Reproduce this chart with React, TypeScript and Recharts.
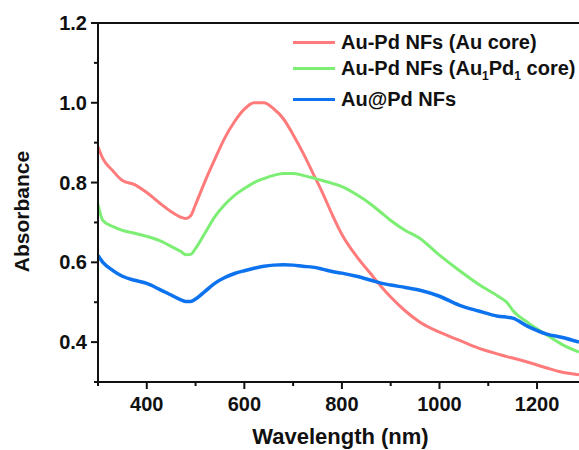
import React from 'react';
import {
  LineChart,
  Line,
  XAxis,
  YAxis,
  ReferenceLine,
} from 'recharts';

// wavelength grid (nm)
const wavelengths = [
  300, 310, 330, 350, 375, 400, 425, 450, 470, 480, 490, 500, 520, 540, 560,
  580, 600, 620, 640, 660, 680, 700, 720, 740, 760, 780, 800, 830, 860, 880,
  900, 930, 960, 1000, 1040, 1080, 1120, 1140, 1150, 1180, 1220, 1250, 1286,
];

const auCore = [
  0.89, 0.86, 0.83, 0.805, 0.795, 0.775, 0.75, 0.727, 0.713, 0.71, 0.717, 0.745,
  0.805, 0.86, 0.912, 0.953, 0.984, 1.0, 1.0, 0.985, 0.96, 0.92, 0.875, 0.825,
  0.775, 0.72, 0.67, 0.615, 0.57, 0.54, 0.513, 0.478, 0.45, 0.425, 0.405, 0.385,
  0.37, 0.363, 0.36, 0.35, 0.335, 0.325, 0.318,
];

const au1pd1Core = [
  0.745, 0.705, 0.69, 0.68, 0.673, 0.665, 0.655, 0.64, 0.627, 0.619, 0.62,
  0.635, 0.675, 0.715, 0.745, 0.768, 0.785, 0.8, 0.81, 0.818, 0.823, 0.823, 0.818,
  0.812, 0.805, 0.798, 0.79, 0.77, 0.745, 0.725, 0.705, 0.68, 0.66, 0.618,
  0.58, 0.545, 0.515, 0.497, 0.48, 0.45, 0.418, 0.395, 0.375,
];

const auPd = [
  0.617, 0.6, 0.58, 0.565, 0.555, 0.547, 0.533, 0.518, 0.506, 0.502, 0.502, 0.508,
  0.528, 0.548, 0.562, 0.572, 0.579, 0.585, 0.59, 0.593, 0.594, 0.593, 0.59,
  0.588, 0.583, 0.577, 0.573, 0.565, 0.555, 0.548, 0.543, 0.537, 0.53, 0.515,
  0.493, 0.478, 0.465, 0.462, 0.46, 0.44, 0.42, 0.412, 0.4,
];

const xTicks = [300, 400, 500, 600, 700, 800, 900, 1000, 1100, 1200];
const xMajor = [400, 600, 800, 1000, 1200];
const yTicks = [0.3, 0.4, 0.5, 0.6, 0.7, 0.8, 0.9, 1.0, 1.1, 1.2];
const yMajor = [0.4, 0.6, 0.8, 1.0, 1.2];

const RED = '#FF7A7A';
const GREEN = '#7DEE74';
const BLUE = '#0C72EE';

const FONT = '"Liberation Sans", Arial, sans-serif';

const AXIS_X = 98;
const AXIS_Y = 382;

const data = wavelengths.map((w, i) => ({
  w,
  auCore: auCore[i],
  au1pd1Core: au1pd1Core[i],
  auPd: auPd[i],
}));

function YTick(props: any) {
  const { y, payload } = props;
  const major = yMajor.some((m) => Math.abs(m - payload.value) < 1e-6);
  return (
    <g>
      <line x1={AXIS_X - (major ? 7 : 4)} x2={AXIS_X} y1={y} y2={y} stroke="#111" strokeWidth={2} />
      {major && (
        <text x={AXIS_X - 11} y={y} dy={7} textAnchor="end" fontFamily={FONT} fontWeight="bold" fontSize={20} fill="#111">
          {payload.value.toFixed(1)}
        </text>
      )}
    </g>
  );
}

function XTick(props: any) {
  const { x, payload } = props;
  const major = xMajor.includes(payload.value);
  return (
    <g>
      <line x1={x} x2={x} y1={AXIS_Y} y2={AXIS_Y + (major ? 7 : 4)} stroke="#111" strokeWidth={2} />
      {major && (
        <text x={x} y={AXIS_Y + 29} textAnchor="middle" fontFamily={FONT} fontWeight="bold" fontSize={20} fill="#111">
          {payload.value}
        </text>
      )}
    </g>
  );
}

const rowStyle = (top: number): React.CSSProperties => ({
  position: 'absolute',
  top,
  left: 0,
  height: 24,
  display: 'flex',
  alignItems: 'center',
  whiteSpace: 'nowrap',
  fontFamily: FONT,
  fontWeight: 'bold',
  fontSize: 20,
  color: '#111',
});

const swatch = (color: string) => (
  <span style={{ display: 'inline-block', width: 42, height: 3, background: color, marginRight: 6 }} />
);

function LegendBox() {
  const sub = { fontSize: 12, verticalAlign: 'sub', lineHeight: 0 } as React.CSSProperties;
  return (
    <div style={{ position: 'absolute', top: 30, left: 293, width: 290, height: 90 }}>
      <div style={rowStyle(0)}>
        {swatch(RED)}
        Au-Pd NFs (Au core)
      </div>
      <div style={rowStyle(26)}>
        {swatch(GREEN)}
        <span>
          Au-Pd NFs (Au<span style={sub}>1</span>Pd<span style={sub}>1</span> core)
        </span>
      </div>
      <div style={rowStyle(57)}>
        {swatch(BLUE)}
        Au@Pd NFs
      </div>
    </div>
  );
}

function YLabel(props: any) {
  const { viewBox } = props;
  const cx = 21;
  const cy = viewBox.y + viewBox.height / 2 + 9;
  return (
    <text x={cx} y={cy} transform={`rotate(-90, ${cx}, ${cy})`} textAnchor="middle" dominantBaseline="central"
      fontFamily={FONT} fontWeight="bold" fontSize={21} fill="#111">
      Absorbance
    </text>
  );
}

function XLabel(props: any) {
  const { viewBox } = props;
  const cx = viewBox.x + viewBox.width / 2 + 2;
  return (
    <text x={cx} y={444} textAnchor="middle" fontFamily={FONT} fontWeight="bold" fontSize={22} fill="#111">
      Wavelength (nm)
    </text>
  );
}

export default function App() {
  return (
    <div style={{ position: 'absolute', left: 0, top: 0, width: 579, height: 450, background: '#fff', overflow: 'hidden' }}>
      <LineChart width={579} height={450} data={data} margin={{ top: 23, right: 0, bottom: 0, left: 0 }}>
        <XAxis
          dataKey="w"
          type="number"
          domain={[300, 1286]}
          ticks={xTicks}
          tick={<XTick />}
          tickLine={false}
          axisLine={{ stroke: '#111', strokeWidth: 2 }}
          height={68}
          allowDataOverflow
          label={<XLabel />}
        />
        <YAxis
          type="number"
          domain={[0.3, 1.2]}
          ticks={yTicks}
          tick={<YTick />}
          tickLine={false}
          axisLine={{ stroke: '#111', strokeWidth: 2 }}
          width={98}
          allowDataOverflow
          label={<YLabel />}
        />
        <ReferenceLine y={1.2} stroke="#111" strokeWidth={2} />
        <Line type="monotone" dataKey="auCore" stroke={RED} strokeWidth={3} dot={false} isAnimationActive={false} />
        <Line type="monotone" dataKey="au1pd1Core" stroke={GREEN} strokeWidth={3} dot={false} isAnimationActive={false} />
        <Line type="monotone" dataKey="auPd" stroke={BLUE} strokeWidth={3.5} dot={false} isAnimationActive={false} />
      </LineChart>
      <LegendBox />
    </div>
  );
}
